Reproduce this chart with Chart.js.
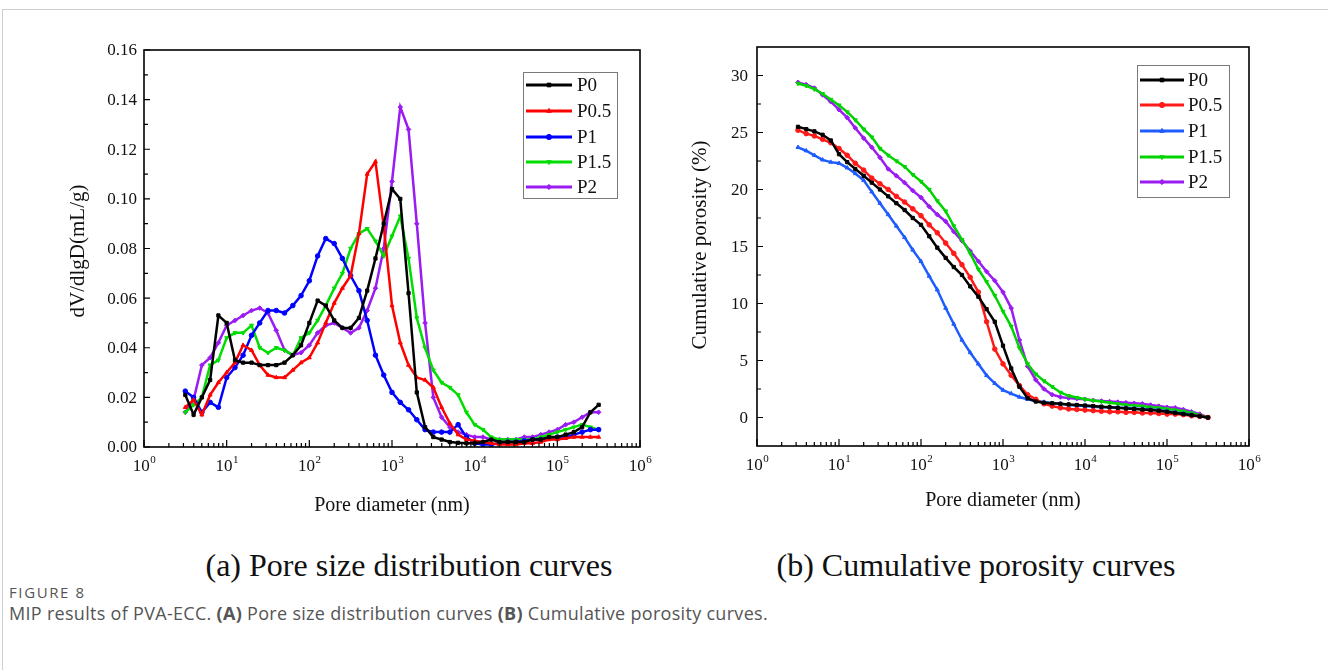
<!DOCTYPE html>
<html>
<head>
<meta charset="utf-8">
<script src="https://cdn.jsdelivr.net/npm/chart.js@4.4.1/dist/chart.umd.min.js"></script>
<style>
  html, body { margin: 0; padding: 0; background: #fff; }
  body { width: 1328px; height: 670px; position: relative; overflow: hidden; }
  #frame { position: absolute; left: 2px; top: 9px; width: 1340px; height: 700px; border: 1px solid #cfcfcf; }
  #psd { position: absolute; left: 0; top: 0; }
  #cum { position: absolute; left: 660px; top: 0; }
  .sub { position: absolute; top: 545px; width: 600px; text-align: center; line-height: 40px;
         font-family: 'Liberation Serif', 'Times New Roman', serif; font-size: 32px; color: #111; }
  .fig { position: absolute; left: 9px; font-family: 'Open Sans', 'Noto Sans', sans-serif; color: #555; white-space: nowrap; }
</style>
</head>
<body>
<div id="frame"></div>
<canvas id="psd" width="660" height="530"></canvas>
<canvas id="cum" width="668" height="530"></canvas>
<div class="sub" style="left:109px">(a) Pore size distribution curves</div>
<div class="sub" style="left:676px">(b) Cumulative porosity curves</div>
<div class="fig" style="top:582px; font-size:15px; line-height:20px; letter-spacing:1.6px;">FIGURE 8</div>
<div class="fig" style="top:601px; font-size:18px; line-height:24px; letter-spacing:0.3px;">MIP results of PVA-ECC. <b>(A)</b> Pore size distribution curves <b>(B)</b> Cumulative porosity curves.</div>

<script>
// --- DATA ---
const seriesNames = ['P0', 'P0.5', 'P1', 'P1.5', 'P2'];

// pore diameters (nm)
const diameters = [3.16, 3.98, 5.01, 6.31, 7.94, 10,
  12.6, 15.8, 20, 25.1, 31.6, 39.8, 50.1, 63.1, 79.4, 100,
  126, 158, 200, 251, 316, 398, 501, 631, 794, 1000,
  1259, 1585, 1995, 2512, 3162, 3981, 5012, 6310, 7943, 10000,
  12589, 15849, 19953, 25119, 31623, 39811, 50119, 63096, 79433, 100000,
  125893, 158489, 199526, 251189, 316228];

// (a) dV/dlgD (mL/g)
const p0Psd = [0.021, 0.013, 0.020, 0.027, 0.053, 0.050,
  0.035, 0.034, 0.034, 0.033, 0.033, 0.033, 0.034, 0.037, 0.041, 0.050,
  0.059, 0.057, 0.051, 0.048, 0.048, 0.052, 0.063, 0.076, 0.090, 0.104,
  0.100, 0.062, 0.022, 0.008, 0.004, 0.003, 0.002, 0.0017, 0.0015, 0.0015,
  0.002, 0.003, 0.002, 0.002, 0.002, 0.002, 0.003, 0.003, 0.004, 0.004,
  0.005, 0.006, 0.008, 0.014, 0.017];
const p05Psd = [0.016, 0.019, 0.013, 0.021, 0.026, 0.030,
  0.034, 0.041, 0.039, 0.033, 0.029, 0.028, 0.028, 0.031, 0.034, 0.036,
  0.042, 0.050, 0.058, 0.064, 0.069, 0.086, 0.110, 0.115, 0.089, 0.057,
  0.042, 0.033, 0.028, 0.027, 0.024, 0.016, 0.0095, 0.005, 0.003, 0.0025,
  0.002, 0.0015, 0.001, 0.001, 0.001, 0.0015, 0.0015, 0.002, 0.003, 0.003,
  0.0035, 0.004, 0.004, 0.004, 0.004];
const p1Psd = [0.0225, 0.020, 0.014, 0.018, 0.016, 0.028,
  0.032, 0.037, 0.045, 0.050, 0.055, 0.055, 0.054, 0.057, 0.061, 0.067,
  0.077, 0.084, 0.082, 0.076, 0.069, 0.063, 0.051, 0.037, 0.029, 0.022,
  0.018, 0.015, 0.011, 0.007, 0.006, 0.006, 0.006, 0.009, 0.004, 0.0015,
  0.001, 0.001, 0.0015, 0.002, 0.002, 0.0025, 0.003, 0.003, 0.0035, 0.004,
  0.004, 0.005, 0.006, 0.007, 0.007];
const p15Psd = [0.014, 0.017, 0.020, 0.033, 0.035, 0.044,
  0.046, 0.046, 0.049, 0.040, 0.038, 0.040, 0.039, 0.037, 0.044, 0.046,
  0.051, 0.057, 0.064, 0.070, 0.080, 0.086, 0.088, 0.083, 0.077, 0.085,
  0.093, 0.076, 0.052, 0.040, 0.031, 0.026, 0.024, 0.021, 0.014, 0.009,
  0.007, 0.004, 0.003, 0.003, 0.003, 0.003, 0.003, 0.004, 0.005, 0.006,
  0.007, 0.008, 0.009, 0.008, 0.007];
const p2Psd = [0.014, 0.019, 0.033, 0.036, 0.042, 0.049,
  0.051, 0.053, 0.055, 0.056, 0.054, 0.047, 0.039, 0.037, 0.038, 0.041,
  0.046, 0.049, 0.050, 0.048, 0.046, 0.048, 0.055, 0.064, 0.080, 0.107,
  0.137, 0.128, 0.090, 0.050, 0.020, 0.012, 0.008, 0.006, 0.005, 0.004,
  0.004, 0.003, 0.003, 0.003, 0.003, 0.004, 0.004, 0.005, 0.006, 0.007,
  0.009, 0.010, 0.012, 0.014, 0.014];

// (b) cumulative porosity (%)
const p0Cum = [25.5, 25.3, 25.1, 24.8, 24.3, 23.1,
  22.4, 21.8, 21.2, 20.6, 20.0, 19.4, 18.8, 18.2, 17.5, 16.9,
  15.9, 14.9, 14.0, 13.2, 12.5, 11.5, 10.6, 9.5, 8.4, 6.3,
  4.3, 2.7, 1.7, 1.4, 1.3, 1.25, 1.2, 1.15, 1.1, 1.05,
  1.0, 0.95, 0.9, 0.85, 0.8, 0.75, 0.7, 0.65, 0.6, 0.5,
  0.4, 0.3, 0.2, 0.1, 0.0];
const p05Cum = [25.2, 24.9, 24.7, 24.4, 24.1, 23.6,
  23.0, 22.3, 21.7, 21.0, 20.5, 20.0, 19.4, 18.9, 18.3, 17.7,
  16.9, 16.2, 15.3, 14.4, 13.4, 12.3, 11.0, 8.4, 6.0, 4.7,
  3.7, 2.8, 2.0, 1.6, 1.2, 1.0, 0.85, 0.75, 0.7, 0.65,
  0.6, 0.55, 0.5, 0.5, 0.45, 0.45, 0.4, 0.4, 0.35, 0.3,
  0.3, 0.25, 0.15, 0.1, 0.0];
const p1Cum = [23.7, 23.4, 23.0, 22.6, 22.4, 22.3,
  21.9, 21.4, 20.8, 19.8, 18.8, 17.8, 16.8, 15.8, 14.7, 13.7,
  12.4, 11.2, 9.6, 8.2, 6.8, 5.7, 4.7, 3.7, 3.0, 2.4,
  2.1, 1.8, 1.6, 1.45, 1.35, 1.25, 1.2, 1.1, 1.05, 1.0,
  0.95, 0.9, 0.9, 0.85, 0.85, 0.8, 0.75, 0.7, 0.65, 0.55,
  0.45, 0.35, 0.25, 0.1, 0.0];
const p15Cum = [29.3, 29.1, 28.8, 28.4, 27.9, 27.4,
  26.8, 26.1, 25.3, 24.6, 23.6, 23.0, 22.5, 22.0, 21.3, 20.7,
  20.0, 19.0, 18.1, 16.8, 15.6, 14.4, 13.0, 11.9, 10.7, 9.3,
  8.0, 6.1, 4.7, 3.8, 3.2, 2.7, 2.2, 1.9, 1.75, 1.6,
  1.5, 1.4, 1.3, 1.2, 1.1, 1.05, 1.0, 0.9, 0.85, 0.75,
  0.65, 0.55, 0.4, 0.2, 0.0];
const p2Cum = [29.4, 29.2, 28.9, 28.3, 27.7, 27.0,
  26.3, 25.4, 24.5, 23.7, 22.8, 21.8, 21.2, 20.6, 19.9, 19.3,
  18.5, 17.8, 17.2, 16.3, 15.5, 14.6, 13.7, 12.8, 12.0, 11.0,
  9.6, 6.8, 4.5, 3.3, 2.5, 2.0, 1.8, 1.7, 1.65, 1.6,
  1.5, 1.45, 1.4, 1.35, 1.3, 1.25, 1.2, 1.1, 1.0, 0.9,
  0.85, 0.7, 0.5, 0.3, 0.0];

// ticks
const decadeExps = [0, 1, 2, 3, 4, 5, 6];
const minorSteps = [2, 3, 4, 5, 6, 7, 8, 9];
const psdMajor = [0, 0.02, 0.04, 0.06, 0.08, 0.10, 0.12, 0.14, 0.16];
const psdMinor = [0.01, 0.03, 0.05, 0.07, 0.09, 0.11, 0.13, 0.15];
const cumMajor = [0, 5, 10, 15, 20, 25, 30];
const cumMinor = [2.5, 7.5, 12.5, 17.5, 22.5, 27.5];

const SERIF = '"Liberation Serif", "Times New Roman", serif';
Chart.defaults.font.family = SERIF;

// --- axes box, inward ticks, labels, legend ---
const axesBox = {
    id: 'axesBox',
    afterDraw(chart, args, o) {
        const { ctx, chartArea: a } = chart;
        const xs = chart.scales.x, ys = chart.scales.y;
        ctx.save();
        ctx.strokeStyle = '#000';
        ctx.lineWidth = 1.2;
        ctx.beginPath();
        o.yMajor.forEach(v => { const p = ys.getPixelForValue(v); ctx.moveTo(a.left, p); ctx.lineTo(a.left + 6, p); });
        o.yMinor.forEach(v => { const p = ys.getPixelForValue(v); ctx.moveTo(a.left, p); ctx.lineTo(a.left + 4, p); });
        decadeExps.forEach(k => {
            const p = xs.getPixelForValue(Math.pow(10, k));
            ctx.moveTo(p, a.bottom); ctx.lineTo(p, a.bottom - 7);
            if (k < 6) minorSteps.forEach(m => {
                const q = xs.getPixelForValue(m * Math.pow(10, k));
                ctx.moveTo(q, a.bottom); ctx.lineTo(q, a.bottom - 4);
            });
        });
        ctx.stroke();
        ctx.lineWidth = 1.6;
        ctx.strokeRect(a.left, a.top, a.right - a.left, a.bottom - a.top);

        // tick labels
        ctx.fillStyle = '#111';
        ctx.font = '17px ' + SERIF;
        ctx.textAlign = 'right';
        ctx.textBaseline = 'middle';
        o.yMajor.forEach(v => ctx.fillText(o.yFmt(v), a.left - o.yGap, ys.getPixelForValue(v) + 1));
        ctx.textAlign = 'left';
        ctx.textBaseline = 'alphabetic';
        decadeExps.forEach(k => {
            const p = xs.getPixelForValue(Math.pow(10, k));
            ctx.font = '17px ' + SERIF;
            const w1 = ctx.measureText('10').width;
            ctx.font = '11px ' + SERIF;
            const w2 = ctx.measureText(String(k)).width;
            const x0 = p - (w1 + w2) / 2;
            ctx.font = '17px ' + SERIF;
            ctx.fillText('10', x0, a.bottom + 24);
            ctx.font = '11px ' + SERIF;
            ctx.fillText(String(k), x0 + w1 + 0.5, a.bottom + 16);
        });

        // axis titles
        ctx.font = '20px ' + SERIF;
        ctx.textAlign = 'center';
        ctx.fillText(o.xTitle, (a.left + a.right) / 2, o.xTitleY);
        ctx.save();
        ctx.translate(o.yTitleX, o.yTitleY);
        ctx.rotate(-Math.PI / 2);
        ctx.font = '21px ' + SERIF;
        ctx.textBaseline = 'middle';
        ctx.fillText(o.yTitle, 0, 0);
        ctx.restore();

        // legend
        const L = o.legend;
        ctx.strokeStyle = '#7a7a7a';
        ctx.lineWidth = 1;
        ctx.strokeRect(L.x + 0.5, L.y + 0.5, L.w, L.h);
        chart.data.datasets.forEach((ds, i) => {
            const ry = L.rows[i];
            ctx.strokeStyle = ds.borderColor;
            ctx.fillStyle = ds.borderColor;
            ctx.lineWidth = 3;
            ctx.beginPath();
            ctx.moveTo(L.x0, ry); ctx.lineTo(L.x1, ry);
            ctx.stroke();
            ctx.lineWidth = 1;
            Chart.helpers.drawPoint(ctx, { pointStyle: ds.pointStyle, radius: 2.6, rotation: ds.pointRotation || 0, borderWidth: 1 }, (L.x0 + L.x1) / 2, ry);
            ctx.fillStyle = '#111';
            ctx.font = '19px ' + SERIF;
            ctx.textAlign = 'left';
            ctx.textBaseline = 'middle';
            ctx.fillText(ds.label, L.tx, ry + 1);
        });
        ctx.restore();
    }
};

function makeDatasets(values, colors, styles) {
    return values.map((vals, i) => ({
        label: seriesNames[i],
        data: diameters.map((d, j) => ({ x: d, y: vals[j] })),
        borderColor: colors[i],
        backgroundColor: colors[i],
        borderWidth: 2.5,
        pointRadius: 2.3,
        pointBorderWidth: 1,
        pointStyle: styles[i].s,
        pointRotation: styles[i].r,
        tension: 0
    }));
}

function makeChart(id, datasets, yMin, yMax, pad, axOpts) {
    return new Chart(document.getElementById(id).getContext('2d'), {
        type: 'line',
        data: { datasets: datasets },
        options: {
            responsive: false,
            animation: false,
            events: [],
            layout: { padding: pad },
            scales: {
                x: { type: 'logarithmic', min: 1, max: 1e6, display: false },
                y: { type: 'linear', min: yMin, max: yMax, display: false }
            },
            plugins: {
                legend: { display: false },
                tooltip: { enabled: false },
                axesBox: axOpts
            }
        },
        plugins: [axesBox]
    });
}

// (a) pore size distribution
makeChart('psd',
    makeDatasets([p0Psd, p05Psd, p1Psd, p15Psd, p2Psd],
        ['#000000', '#ff0000', '#0000ff', '#00dd00', '#9a1cf2'],
        [{ s: 'rect', r: 0 }, { s: 'triangle', r: 0 }, { s: 'circle', r: 0 }, { s: 'triangle', r: 180 }, { s: 'rectRot', r: 0 }]),
    0, 0.16,
    { left: 144, top: 50, right: 20, bottom: 83 },
    {
        yMajor: psdMajor, yMinor: psdMinor, yGap: 7,
        yFmt: v => v.toFixed(2),
        xTitle: 'Pore diameter (nm)', xTitleY: 511,
        yTitle: 'dV/dlgD(mL/g)', yTitleX: 78, yTitleY: 251,
        legend: { x: 523, y: 72, w: 94, h: 126, x0: 526, x1: 572, tx: 577, rows: [85, 111, 137, 162, 187] }
    });

// (b) cumulative porosity
makeChart('cum',
    makeDatasets([p0Cum, p05Cum, p1Cum, p15Cum, p2Cum],
        ['#000000', '#ff1a1a', '#1f5cff', '#00d400', '#9a1cf2'],
        [{ s: 'rect', r: 0 }, { s: 'circle', r: 0 }, { s: 'triangle', r: 0 }, { s: 'triangle', r: 180 }, { s: 'rectRot', r: 0 }]),
    -2.5, 32.5,
    { left: 97, top: 47, right: 79, bottom: 84 },
    {
        yMajor: cumMajor, yMinor: cumMinor, yGap: 9,
        yFmt: v => String(v),
        xTitle: 'Pore diameter (nm)', xTitleY: 506,
        yTitle: 'Cumulative porosity (%)', yTitleX: 40, yTitleY: 245,
        legend: { x: 477, y: 65, w: 92, h: 132, x0: 480, x1: 524, tx: 528, rows: [80, 105, 131, 157, 182] }
    });
</script>
</body>
</html>
